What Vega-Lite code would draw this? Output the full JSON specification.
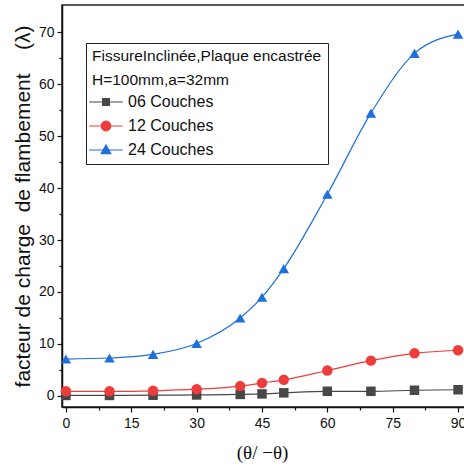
{
  "$schema": "https://vega.github.io/schema/vega-lite/v6.json",
  "width": 410,
  "height": 402,
  "autosize": "none",
  "padding": {"left": 62, "top": 5, "right": 0, "bottom": 66},
  "background": "white",
  "config": {
    "view": {"stroke": "#222", "strokeWidth": 1.5},
    "font": "Liberation Sans",
    "axis": {"domainColor": "#111", "domainWidth": 1.5, "tickColor": "#111", "tickWidth": 1.2, "labelColor": "#111", "labelFont": "Liberation Sans", "labelFontSize": 14, "grid": false}
  },
  "data": {"values": [
    {"t": 0, "s": "06 Couches", "v": 0.1}, {"t": 10, "s": "06 Couches", "v": 0.1}, {"t": 20, "s": "06 Couches", "v": 0.15},
    {"t": 30, "s": "06 Couches", "v": 0.2}, {"t": 40, "s": "06 Couches", "v": 0.3}, {"t": 45, "s": "06 Couches", "v": 0.4},
    {"t": 50, "s": "06 Couches", "v": 0.6}, {"t": 60, "s": "06 Couches", "v": 0.9}, {"t": 70, "s": "06 Couches", "v": 0.9},
    {"t": 80, "s": "06 Couches", "v": 1.1}, {"t": 90, "s": "06 Couches", "v": 1.2},
    {"t": 0, "s": "12 Couches", "v": 0.9}, {"t": 10, "s": "12 Couches", "v": 0.9}, {"t": 20, "s": "12 Couches", "v": 1.0},
    {"t": 30, "s": "12 Couches", "v": 1.3}, {"t": 40, "s": "12 Couches", "v": 1.9}, {"t": 45, "s": "12 Couches", "v": 2.5},
    {"t": 50, "s": "12 Couches", "v": 3.1}, {"t": 60, "s": "12 Couches", "v": 4.9}, {"t": 70, "s": "12 Couches", "v": 6.8},
    {"t": 80, "s": "12 Couches", "v": 8.2}, {"t": 90, "s": "12 Couches", "v": 8.8},
    {"t": 0, "s": "24 Couches", "v": 7.1}, {"t": 10, "s": "24 Couches", "v": 7.3}, {"t": 20, "s": "24 Couches", "v": 8.0},
    {"t": 30, "s": "24 Couches", "v": 10.1}, {"t": 40, "s": "24 Couches", "v": 15.0}, {"t": 45, "s": "24 Couches", "v": 19.0},
    {"t": 50, "s": "24 Couches", "v": 24.5}, {"t": 60, "s": "24 Couches", "v": 38.8}, {"t": 70, "s": "24 Couches", "v": 54.4},
    {"t": 80, "s": "24 Couches", "v": 65.9}, {"t": 90, "s": "24 Couches", "v": 69.6}
  ]},
  "layer": [
    {
      "mark": {"type": "line", "interpolate": "monotone", "strokeWidth": 1.2},
      "encoding": {
        "x": {"field": "t", "type": "quantitative", "scale": {"domain": [-0.9, 93.2], "nice": false, "zero": false},
          "axis": {"orient": "bottom", "values": [0, 15, 30, 45, 60, 75, 90], "tickSize": 5, "labelPadding": 4, "title": "(θ/ −θ)", "titleFont": "Liberation Serif", "titleFontSize": 19, "titleFontWeight": "normal", "titleColor": "#111", "titlePadding": 13, "titleX": 200}},
        "y": {"field": "v", "type": "quantitative", "scale": {"domain": [-2.12, 75.2], "nice": false, "zero": false},
          "axis": {"orient": "left", "values": [0, 10, 20, 30, 40, 50, 60, 70], "tickSize": 5, "labelPadding": 3, "title": "facteur de charge\u00a0\u00a0de flambement\u00a0\u00a0\u00a0\u00a0(λ)", "titleFont": "Liberation Sans", "titleFontSize": 21, "titleFontWeight": "normal", "titleColor": "#111", "titlePadding": 5}},
        "color": {"field": "s", "type": "nominal", "scale": {"domain": ["06 Couches", "12 Couches", "24 Couches"], "range": ["#474747", "#ee3b3b", "#1f6fdc"]},
          "legend": {
            "orient": "none", "legendX": 24, "legendY": 38,
            "title": ["FissureInclinée,Plaque encastrée", "H=100mm,a=32mm"],
            "titleFont": "Liberation Sans", "titleFontSize": 15.5, "titleFontWeight": "normal", "titleColor": "#111", "titleLineHeight": 23.5, "titlePadding": 6, "titleLimit": 400,
            "labelFont": "Liberation Sans", "labelFontSize": 16, "labelColor": "#111",
            "strokeColor": "#222", "fillColor": "white", "padding": 6,
            "symbolSize": 64, "symbolOffset": 6, "labelOffset": 14, "rowPadding": 8,
            "encode": {"symbols": {"update": {
              "shape": {"signal": "datum.value === '06 Couches' ? 'M-4.2,0H4.2M-0.85,-0.85H0.85V0.85H-0.85Z' : datum.value === '12 Couches' ? 'M-4.2,0H4.2M1.2,0A1.2,1.2 0 1 1 -1.2,0A1.2,1.2 0 1 1 1.2,0Z' : 'M-4.2,0H4.2M0,-1.25L1.2,0.9H-1.2Z'"},
              "stroke": {"scale": "color", "field": "value"},
              "fill": {"scale": "color", "field": "value"},
              "strokeWidth": {"value": 1.2},
              "size": {"value": 64}
            }}}
          }}
      }
    },
    {
      "transform": [{"filter": "datum.s === '06 Couches'"}],
      "mark": {"type": "point", "filled": true, "size": 90, "opacity": 1, "shape": "square"},
      "encoding": {
        "x": {"field": "t", "type": "quantitative", "axis": null},
        "y": {"field": "v", "type": "quantitative", "axis": null},
        "color": {"field": "s", "type": "nominal"}
      }
    },
    {
      "transform": [{"filter": "datum.s === '12 Couches'"}],
      "mark": {"type": "point", "filled": true, "size": 110, "opacity": 1, "shape": "circle"},
      "encoding": {
        "x": {"field": "t", "type": "quantitative", "axis": null},
        "y": {"field": "v", "type": "quantitative", "axis": null},
        "color": {"field": "s", "type": "nominal"}
      }
    },
    {
      "transform": [{"filter": "datum.s === '24 Couches'"}],
      "mark": {"type": "point", "filled": true, "size": 110, "opacity": 1, "shape": "triangle-up"},
      "encoding": {
        "x": {"field": "t", "type": "quantitative", "axis": null},
        "y": {"field": "v", "type": "quantitative", "axis": null},
        "color": {"field": "s", "type": "nominal"}
      }
    },
    {
      "mark": {"type": "point", "opacity": 0},
      "encoding": {
        "x": {"field": "t", "type": "quantitative", "axis": {"orient": "bottom", "values": [7.5, 22.5, 37.5, 52.5, 67.5, 82.5], "labels": false, "domain": false, "tickSize": 3, "title": null}},
        "y": {"field": "v", "type": "quantitative", "axis": {"orient": "left", "values": [5, 15, 25, 35, 45, 55, 65], "labels": false, "domain": false, "tickSize": 3, "title": null}}
      }
    }
  ],
  "resolve": {"axis": {"x": "independent", "y": "independent"}}
}
